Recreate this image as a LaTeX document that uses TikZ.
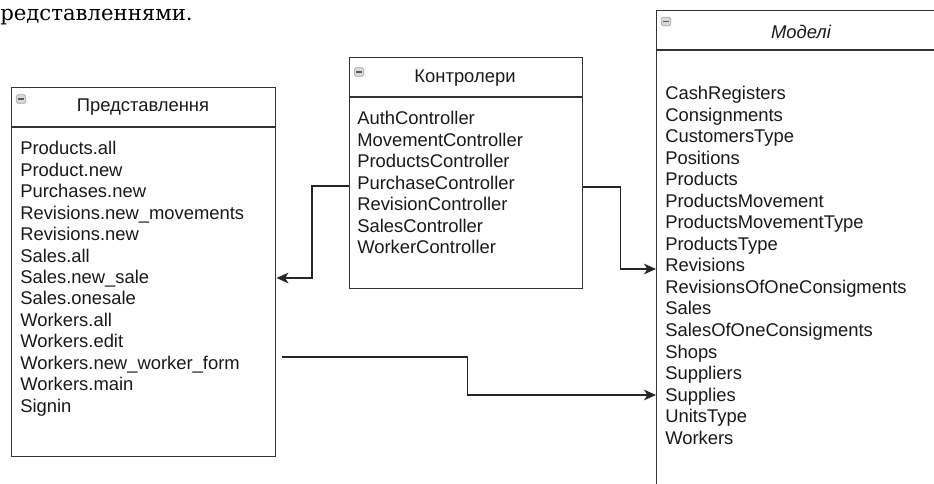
\documentclass[tikz,border=0pt]{standalone}
\usepackage{fontspec}
\setmainfont{Liberation Sans}
\newfontfamily\capfont{DejaVu Serif}
\usetikzlibrary{arrows.meta,calc}

\tikzset{
  umlbox/.style={draw=black!80, line width=1.1pt, inner sep=0pt, anchor=north west},
  divider/.style={draw=black!80, line width=1.1pt},
  item/.style={anchor=base west, inner sep=0pt, font=\fontsize{13.8}{16}\selectfont, text=black!90},
  title/.style={anchor=center, inner sep=0pt, font=\fontsize{13.8}{16}\selectfont, text=black!90},
  collapse/.style={draw=gray!70, fill=gray!30, rounded corners=1.2pt, line width=0.6pt,
                   minimum width=7pt, minimum height=6.5pt, inner sep=0pt},
  conn/.style={draw=black!85, line width=1pt, -{Stealth[length=9pt, width=8pt, inset=2.5pt]}}
}

\newcommand{\collapsebox}[2]{%
  \node[collapse] (#1) at #2 {};
  \draw[black!65, line width=1pt] ($(#1.west)+(1.8,0)$) -- ($(#1.east)+(-1.8,0)$);
}

\begin{document}
\begin{tikzpicture}[x=0.75pt, y=-0.75pt]
  \useasboundingbox (0,0) rectangle (934,484);
  \clip (0,0) rectangle (934,484);

  % caption line above the diagram
  \node[anchor=base west, inner sep=0pt, font=\capfont\fontsize{15.9}{18}\selectfont] (caption) at (0,21) {редставленнями.};

  % ---- views ----
  \node[umlbox, minimum width=198pt, minimum height=276.75pt] (views) at (11,87) {};
  \draw[divider] ($(views.north west)+(0,40)$) -- ($(views.north east)+(0,40)$);
  \collapsebox{vicon}{(21,99)}
  \node[title] (vtitle) at (143,107) {Представлення};
  \foreach [count=\i from 0] \t in {Products.all, Product.new, Purchases.new,
      Revisions.new\_movements, Revisions.new, Sales.all, Sales.new\_sale,
      Sales.onesale, Workers.all, Workers.edit, Workers.new\_worker\_form,
      Workers.main, Signin}
    \node[item] (v\i) at (20,{155+21.42*\i}) {\t};

  % ---- controllers ----
  \node[umlbox, minimum width=174.75pt, minimum height=173.25pt] (ctrl) at (349,57) {};
  \draw[divider] ($(ctrl.north west)+(0,40)$) -- ($(ctrl.north east)+(0,40)$);
  \collapsebox{cicon}{(359,72)}
  \node[title] (ctitle) at (465,78) {Контролери};
  \foreach [count=\i from 0] \t in {AuthController, MovementController,
      ProductsController, PurchaseController, RevisionController,
      SalesController, WorkerController}
    \node[item] (c\i) at (357,{125+21.5*\i}) {\t};

  % ---- models ----
  \node[umlbox, minimum width=217.5pt, minimum height=375pt] (models) at (656,10) {};
  \draw[divider] ($(models.north west)+(0,40)$) -- ($(models.north east)+(0,40)$);
  \collapsebox{micon}{(666,21.5)}
  \node[title, font=\fontsize{13.8}{16}\selectfont\itshape] (mtitle) at (801,32) {Моделі};
  \foreach [count=\i from 0] \t in {CashRegisters, Consignments, CustomersType,
      Positions, Products, ProductsMovement, ProductsMovementType, ProductsType,
      Revisions, RevisionsOfOneConsigments, Sales, SalesOfOneConsigments, Shops,
      Suppliers, Supplies, UnitsType, Workers}
    \node[item] (m\i) at (665,{100+21.5*\i}) {\t};

  % ---- connectors ----
  \draw[conn] ($(ctrl.north west)+(0,129)$) -- ++(-37,0) |- ($(views.north east)+(0,191)$);
  \draw[conn] ($(ctrl.north east)+(0,130)$) -- ++(37,0) |- ($(models.north west)+(0,259)$);
  \coordinate (vout) at ($(views.north east)+(6,270)$);
  \draw[conn] (vout) -- ++(185,0) |- ($(models.north west)+(0,385)$);
\end{tikzpicture}
\end{document}
